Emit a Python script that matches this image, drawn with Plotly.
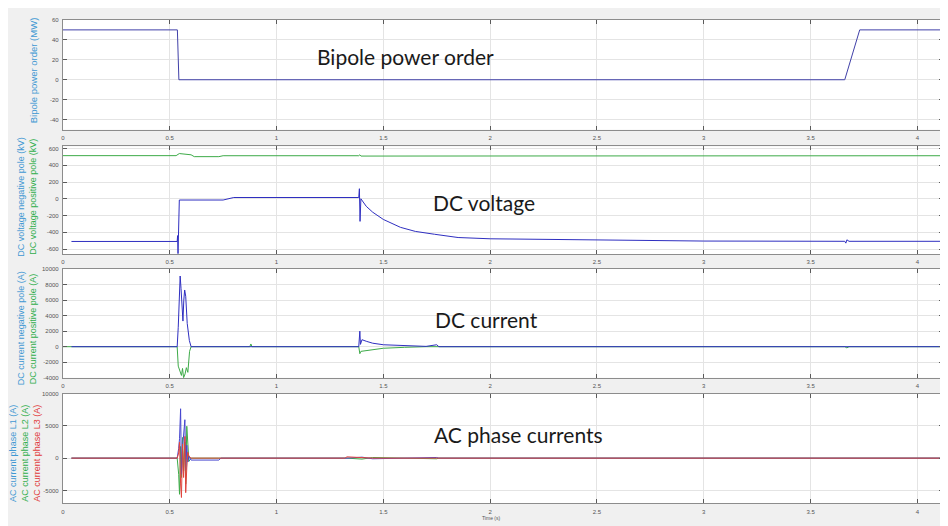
import plotly.graph_objects as go

W, H = 948, 526
OFF = 8  # page body margin offset

# ---------------- data ----------------
# Bipole power order (MW)
t_power = [0.0, 0.536, 0.543, 3.66, 3.73, 4.12]
power_order = [50, 50, 0, 0, 50, 50]

# DC voltage (kV)
t_vpos = [0.0, 0.53, 0.545, 0.56, 0.6, 0.615, 0.73, 0.75, 1.385, 1.39, 1.395, 4.12]
v_pos = [515, 515, 540, 535, 525, 503, 503, 514, 514, 525, 510, 514]

t_vneg = [0.04, 0.535, 0.537, 0.539, 0.545, 0.75, 0.8, 1.385, 1.388, 1.391, 1.395,
          1.42, 1.45, 1.5, 1.58, 1.65, 1.74, 1.85, 2.0, 2.5, 3.0, 3.66, 3.665,
          3.67, 3.68, 4.12]
v_neg = [-510, -510, -440, -655, -15, -15, 15, 15, 120, -270, 0,
         -90, -160, -247, -341, -390, -424, -463, -478, -494, -505, -508, -530,
         -490, -508, -508]

# DC current (A)
t_ineg = [0.04, 0.535, 0.54, 0.545, 0.549, 0.553, 0.558, 0.562, 0.566, 0.57, 0.575,
          0.582, 0.592, 0.6, 1.385, 1.39, 1.393, 1.4, 1.42, 1.45, 1.5, 1.6, 1.7,
          1.75, 1.76, 4.12]
i_neg = [0, 0, 2500, 8500, 9100, 7500, 5200, 3300, 6000, 7300, 6500,
         3000, 800, 0, 0, 2000, 300, 900, 700, 450, 250, 120, 40,
         250, 0, 0]

t_ipos = [0.0, 0.535, 0.54, 0.548, 0.555, 0.56, 0.565, 0.572, 0.578, 0.585, 0.593,
          0.6, 0.875, 0.88, 0.885, 1.385, 1.39, 1.395, 1.42, 1.45, 1.5, 1.6, 1.7,
          3.66, 3.67, 3.68, 4.12]
i_pos = [0, 0, -2500, -3200, -3700, -2800, -4000, -3500, -2700, -3300, -600,
         0, 0, 350, 0, 0, -900, -600, -500, -350, -200, -80, 0,
         0, -150, 0, 0]

# AC phase currents (A)
t_ac = [0.04, 0.535, 0.542, 0.546, 0.551, 0.555, 0.56, 0.565, 0.571, 0.575, 0.58,
        0.585, 0.59, 0.6, 0.73, 0.74, 1.32, 1.33, 1.4, 1.45, 1.75, 1.76, 4.12]
i_l1 = [0, 0, 1500, 3000, 7650, -2500, 1500, 3800, 5950, -1800, 2000,
        -600, 300, -300, -300, 0, 0, 0, 150, -100, 100, 0, 0]
i_l2 = [0, 0, -2500, -5600, 1800, -3000, 3200, -2000, 2500, -4000, 4940,
        1000, -500, 0, 0, 0, 0, 0, -150, 100, -100, 0, 0]
i_l3 = [0, 0, 800, 2500, -4000, -6100, 2200, -3000, 3360, -5350, -1500,
        900, 300, 0, 0, 0, 0, 200, 100, 0, 0, 0, 0]

x_ticks = [0, 0.5, 1, 1.5, 2, 2.5, 3, 3.5, 4]
y1_ticks = [-40, -20, 0, 20, 40, 60]
y2_ticks = [-600, -400, -200, 0, 200, 400, 600]
y3_ticks = [-4000, -2000, 0, 2000, 4000, 6000, 8000, 10000]
y4_ticks = [-5000, 0, 5000, 10000]

# ---------------- styling ----------------
C_NAVY = "#4040a8"
C_BLUE = "#2f2fc0"
C_GREEN = "#3daa48"
C_L1 = "#4646cf"
C_L3 = "#e0433c"
T_BLUE = "#3f98d3"
T_GREEN = "#2fae4c"
T_RED = "#e03a3a"

fig = go.Figure()

def px_x(x):
    return (x - OFF) / W

def px_y(y):
    return 1 - (y - OFF) / H

domains = [(17, 128), (145, 254), (269, 379), (395, 506)]

def line(x, y, color, ax):
    fig.add_trace(go.Scatter(x=x, y=y, mode="lines", line=dict(color=color, width=1),
                             xaxis="x" if ax == 1 else f"x{ax}",
                             yaxis="y" if ax == 1 else f"y{ax}",
                             showlegend=False, hoverinfo="skip"))

line(t_power, power_order, C_NAVY, 1)
line(t_vpos, v_pos, C_GREEN, 2)
line(t_vneg, v_neg, C_BLUE, 2)
line(t_ipos, i_pos, C_GREEN, 3)
line(t_ineg, i_neg, C_BLUE, 3)
line(t_ac, i_l2, C_GREEN, 4)
line(t_ac, i_l1, C_L1, 4)
line(t_ac, i_l3, C_L3, 4)

axis_common = dict(showline=True, linecolor="#8c8c8c", linewidth=1, mirror="ticks",
                   ticks="inside", ticklen=4, tickcolor="#5a5a5a", showgrid=True,
                   gridcolor="#e4e4e4", gridwidth=1, zeroline=False,
                   tickfont=dict(size=6, color="#555555", family="Liberation Sans"))

layout = dict(width=W, height=H, margin=dict(l=0, r=0, t=0, b=0),
              paper_bgcolor="#f0f0f0", plot_bgcolor="white", showlegend=False)

yranges = [[-50, 60], [-662, 625], [-4000, 10000], [-7000, 10000]]
yticks = [y1_ticks, y2_ticks, y3_ticks, y4_ticks]
for i in range(4):
    k = "" if i == 0 else str(i + 1)
    top, bot = domains[i]
    layout["xaxis" + k] = dict(axis_common, domain=[px_x(61), px_x(943)], range=[0, 4.12],
                               tickvals=x_ticks, anchor="y" + k, ticklabelstandoff=2)
    layout["yaxis" + k] = dict(axis_common, domain=[px_y(bot), px_y(top)], range=yranges[i],
                               tickvals=yticks[i], ticktext=[str(v) for v in yticks[i]],
                               anchor="x" + k, ticklabelstandoff=2)

fig.update_layout(**layout)

ann = []
def add_text(text, x, y, size, color, angle=0, family="Liberation Sans"):
    ann.append(dict(text=text, x=px_x(x), y=px_y(y), xref="paper", yref="paper",
                    showarrow=False, textangle=angle, xanchor="center", yanchor="middle",
                    font=dict(size=size, color=color, family=family)))

# y-axis titles
add_text("Bipole power order (MW)", 31, 68, 9.5, T_BLUE, -90)
add_text("DC voltage negative pole (kV)", 19, 196, 9, T_BLUE, -90)
add_text("DC voltage positive pole (kV)", 31, 196, 9, T_GREEN, -90)
add_text("DC current negative pole (A)", 19, 329, 9, T_BLUE, -90)
add_text("DC current positive pole (A)", 31, 329, 9, T_GREEN, -90)
add_text("AC current phase L1 (A)", 11, 455, 9, T_BLUE, -90)
add_text("AC current phase L2 (A)", 23, 455, 9, T_GREEN, -90)
add_text("AC current phase L3 (A)", 35, 455, 9, T_RED, -90)

# panel captions
add_text("Bipole power order", 404, 54, 21, "#1a1a1a", family="Lato")
add_text("DC voltage", 483, 202, 21, "#1a1a1a", family="Lato")
add_text("DC current", 486, 320, 21, "#1a1a1a", family="Lato")
add_text("AC phase currents", 518, 436, 21, "#1a1a1a", family="Lato")

add_text("Time (s)", 490, 521, 5, "#555555")

fig.update_layout(annotations=ann)
fig.write_html("out.html")
